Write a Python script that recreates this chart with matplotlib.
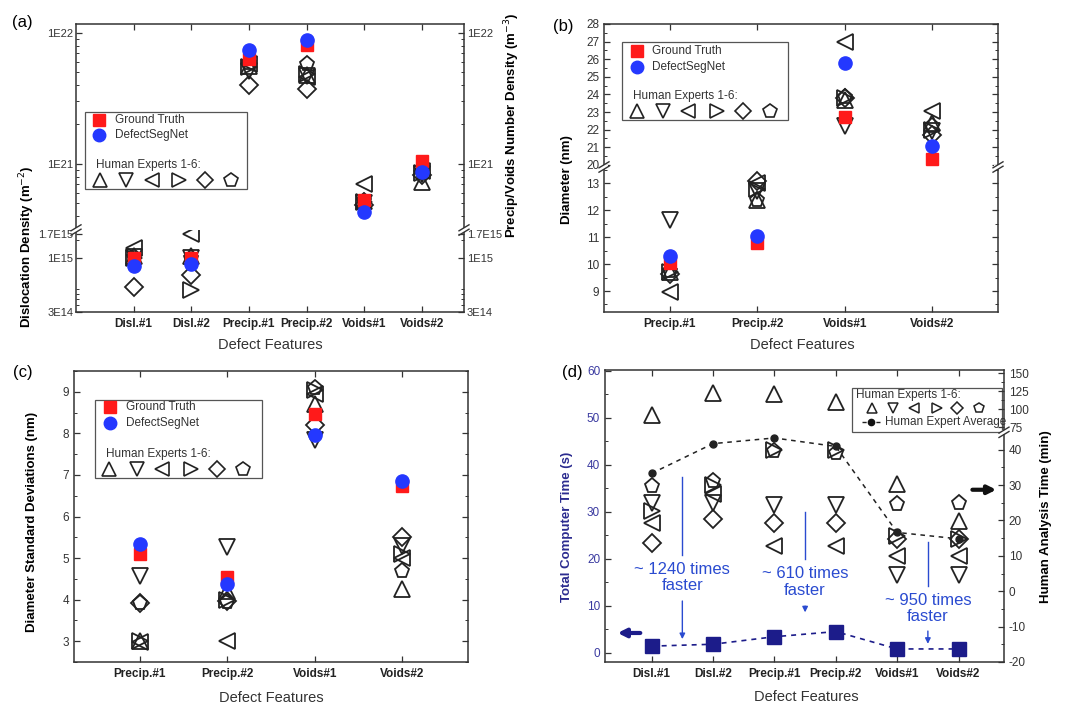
import numpy as np
import matplotlib.pyplot as plt
from matplotlib.lines import Line2D
from matplotlib.patches import Rectangle
from matplotlib.ticker import FixedLocator, MultipleLocator, LogLocator, NullFormatter

plt.rcParams['font.family'] = ['Liberation Sans', 'DejaVu Sans']
plt.rcParams['axes.linewidth'] = 1.1
plt.rcParams['axes.edgecolor'] = '#333333'
plt.rcParams['axes.unicode_minus'] = False

# ---- data ----
feat_6 = ['Disl.#1', 'Disl.#2', 'Precip.#1', 'Precip.#2', 'Voids#1', 'Voids#2']
feat_4 = ['Precip.#1', 'Precip.#2', 'Voids#1', 'Voids#2']
expert_markers = ['^', 'v', '<', '>', 'D', 'p']

# (a) densities: dislocations in m^-2, precipitates/voids in m^-3
gt_a = [1.0e15, 1.0e15, 6.3e21, 8.1e21, 5.3e20, 1.06e21]
dsn_a = [8.3e14, 8.8e14, 7.4e21, 8.8e21, 4.3e20, 8.7e20]
exp_a = [
    [1.05e15, 1.05e15, 5.6e21, 4.8e21, 5.2e20, 7.3e20],
    [1.02e15, 1.00e15, 5.1e21, 4.7e21, 5.0e20, 8.4e20],
    [1.25e15, 1.70e15, 5.8e21, 4.6e21, 7.0e20, 8.9e20],
    [1.00e15, 4.90e14, 5.5e21, 4.9e21, 5.1e20, 8.6e20],
    [5.20e14, 6.90e14, 4.0e21, 3.7e21, 4.9e20, 8.2e20],
    [1.03e15, 1.00e15, 5.9e21, 5.8e21, 5.2e20, 8.5e20],
]

# (b) diameter (nm)
gt_b = [10.04, 10.78, 22.7, 20.33]
dsn_b = [10.3, 11.03, 25.77, 21.05]
exp_b = [
    [9.70, 12.40, 23.70, 22.40],
    [11.65, 12.70, 22.18, 21.90],
    [8.98, 13.00, 27.00, 23.07],
    [9.70, 12.80, 23.80, 22.00],
    [9.65, 13.10, 23.80, 21.70],
    [9.75, 12.40, 23.85, 22.20],
]

# (c) diameter standard deviations (nm)
gt_c = [5.09, 4.55, 8.47, 6.73]
dsn_c = [5.34, 4.38, 7.97, 6.85]
exp_c = [
    [3.00, 4.20, 8.70, 4.26],
    [4.57, 5.26, 7.85, 5.29],
    [2.97, 3.00, 8.94, 5.00],
    [3.00, 4.00, 9.05, 5.10],
    [3.92, 3.96, 8.21, 5.50],
    [3.93, 3.95, 9.10, 4.70],
]

# (d) analysis time: computer (s) and human experts (min)
cpu_time = [1.4, 1.8, 3.4, 4.5, 0.8, 0.8]
exp_d = [
    [91.4, 122.0, 120.5, 110.0, 30.2, 19.9],
    [25.0, 25.0, 24.3, 24.3, 4.5, 4.5],
    [19.4, 27.4, 12.9, 12.9, 9.9, 9.9],
    [22.7, 30.0, 40.0, 39.8, 15.6, 14.7],
    [13.6, 20.4, 19.4, 19.4, 14.8, 14.8],
    [29.7, 31.0, 39.5, 39.0, 24.6, 25.0],
]
avg_d = [33.3, 41.7, 43.3, 40.9, 16.6, 14.8]
speedups = ['~ 1240 times\nfaster', '~ 610 times\nfaster', '~ 950 times\nfaster']

RED = '#ff1a1a'
BLUE = '#2438ff'
NAVY = '#1c1c8a'
ANNO = '#2a4bd0'

W, H = 1070, 704
fig = plt.figure(figsize=(W / 100, H / 100), dpi=100)


def box(l, t, r, b):
    return [l / W, 1 - b / H, (r - l) / W, (b - t) / H]


def base_ticks(ax, feats, top=True, bottom=True, labels=True):
    ax.set_xticks(range(len(feats)))
    if labels:
        ax.set_xticklabels(feats, fontweight='bold', fontsize=9)
    else:
        ax.tick_params(axis='x', labelbottom=False)
    ax.tick_params(which='both', direction='in', top=top, bottom=bottom,
                   left=True, right=True, labelsize=8.5, colors='#333333')
    ax.tick_params(which='major', length=4, width=0.9)
    ax.tick_params(which='minor', length=2, width=0.7)
    ax.tick_params(axis='x', which='minor', top=False, bottom=False)
    ax.tick_params(axis='x', labelcolor='#222222', pad=4)


def slash(px, py):
    fig.add_artist(Rectangle(((px - 4) / W, 1 - (py + 2) / H), 8 / W, 4 / H,
                             transform=fig.transFigure, facecolor='white',
                             edgecolor='none', zorder=20))
    for dy in (-2.2, 2.2):
        fig.add_artist(Line2D([(px - 5) / W, (px + 5) / W],
                              [1 - (py + dy + 3) / H, 1 - (py + dy - 3) / H],
                              color='#333333', lw=1.0, zorder=21))


def scatter_set(ax, gt, dsn, exps, ms_exp=11):
    x = np.arange(len(gt))
    for mk, vals in zip(expert_markers, exps):
        ms = ms_exp * 0.8 if mk == 'D' else ms_exp
        ax.plot(x, vals, ls='none', marker=mk, ms=ms, mfc='none', mec='#222222', mew=1.3)
    ax.plot(x, gt, ls='none', marker='s', ms=8, color=RED)
    ax.plot(x, dsn, ls='none', marker='o', ms=9.5, color=BLUE)


def legend_box(ax, frame, gt_y, dsn_y, sym_x, txt_x, title_xy, row_y, row_x):
    x0, y0, x1, y1 = frame
    ax.add_patch(Rectangle((x0, y0), x1 - x0, y1 - y0, transform=ax.transAxes,
                           facecolor='white', edgecolor='#555555', lw=0.9,
                           zorder=10, clip_on=False))
    kw = dict(transform=ax.transAxes, clip_on=False, zorder=11, ls='none')
    ax.plot([sym_x], [gt_y], marker='s', ms=8, color=RED, **kw)
    ax.plot([sym_x], [dsn_y], marker='o', ms=9, color=BLUE, **kw)
    ax.text(txt_x, gt_y, 'Ground Truth', transform=ax.transAxes, va='center',
            fontsize=8.5, color='#333333', zorder=12)
    ax.text(txt_x, dsn_y, 'DefectSegNet', transform=ax.transAxes, va='center',
            fontsize=8.5, color='#333333', zorder=12)
    ax.text(title_xy[0], title_xy[1], 'Human Experts 1-6:', transform=ax.transAxes,
            va='center', fontsize=8.5, color='#333333', zorder=12)
    for mk, xx in zip(expert_markers, row_x):
        ms = 8.5 if mk == 'D' else 10.5
        ax.plot([xx], [row_y], marker=mk, ms=ms, mfc='none', mec='#222222', mew=1.2, **kw)


# ================= (a) =================
ax_a1 = fig.add_axes(box(76, 24, 464, 230))
ax_a2 = fig.add_axes(box(76, 230, 464, 312), sharex=ax_a1)
for ax in (ax_a1, ax_a2):
    ax.set_yscale('log')
    scatter_set(ax, gt_a, dsn_a, exp_a)
ax_a1.set_xlim(-1.0, 5.73)
ax_a1.set_ylim(3.13e20, 1.17e22)
ax_a2.set_ylim(3.0e14, 1.87e15)
ax_a1.spines['bottom'].set_visible(False)
ax_a2.spines['top'].set_visible(False)
base_ticks(ax_a1, feat_6, top=True, bottom=False, labels=False)
base_ticks(ax_a2, feat_6, top=False, bottom=True)
ax_a1.yaxis.set_major_locator(FixedLocator([1e21, 1e22]))
ax_a1.set_yticklabels(['1E21', '1E22'])
ax_a1.yaxis.set_minor_locator(LogLocator(base=10, subs=np.arange(2, 10)))
ax_a1.yaxis.set_minor_formatter(NullFormatter())
ax_a2.yaxis.set_major_locator(FixedLocator([3e14, 1e15, 1.7e15]))
ax_a2.set_yticklabels(['3E14', '1E15', '1.7E15'])
ax_a2.yaxis.set_minor_locator(LogLocator(base=10, subs=np.arange(1, 10) * 0.5))
ax_a2.yaxis.set_minor_formatter(NullFormatter())
for ax in (ax_a1, ax_a2):
    ax.tick_params(axis='y', labelright=True, pad=2, labelsize=8)
slash(76, 230)
slash(464, 230)
legend_box(ax_a1, (0.023, 0.199, 0.441, 0.573), 0.534, 0.461, 0.060, 0.10,
           (0.052, 0.316), 0.243, [0.062, 0.129, 0.195, 0.265, 0.332, 0.399])
fig.text(27 / W, 1 - 247 / H, 'Dislocation Density (m$^{-2}$)', rotation=90,
         ha='center', va='center', fontsize=9.5, fontweight='bold')
fig.text(512 / W, 1 - 125 / H, 'Precip/Voids Number Density (m$^{-3}$)', rotation=90,
         ha='center', va='center', fontsize=9.5, fontweight='bold')
fig.text(270 / W, 1 - 345 / H, 'Defect Features', ha='center', va='center', fontsize=10.5, color='#333333')
fig.text(12 / W, 1 - 22 / H, '(a)', ha='left', va='center', fontsize=12)

# ================= (b) =================
ax_b1 = fig.add_axes(box(604, 24, 998, 167))
ax_b2 = fig.add_axes(box(604, 167, 998, 312), sharex=ax_b1)
for ax in (ax_b1, ax_b2):
    scatter_set(ax, gt_b, dsn_b, exp_b)
ax_b1.set_xlim(-0.75, 3.75)
ax_b1.set_ylim(19.88, 28.0)
ax_b2.set_ylim(8.22, 13.61)
ax_b1.spines['bottom'].set_visible(False)
ax_b2.spines['top'].set_visible(False)
base_ticks(ax_b1, feat_4, top=True, bottom=False, labels=False)
base_ticks(ax_b2, feat_4, top=False, bottom=True)
ax_b1.yaxis.set_major_locator(MultipleLocator(1))
ax_b1.yaxis.set_minor_locator(MultipleLocator(0.5))
ax_b2.yaxis.set_major_locator(MultipleLocator(1))
ax_b2.yaxis.set_minor_locator(MultipleLocator(0.5))
slash(604, 167)
slash(998, 167)
legend_box(ax_b1, (0.045, 0.329, 0.466, 0.872), 0.813, 0.697, 0.083, 0.123,
           (0.074, 0.497), 0.39, [0.083, 0.149, 0.214, 0.286, 0.352, 0.421])
fig.text(567 / W, 1 - 180 / H, 'Diameter (nm)', rotation=90,
         ha='center', va='center', fontsize=9.5, fontweight='bold')
fig.text(802 / W, 1 - 345 / H, 'Defect Features', ha='center', va='center', fontsize=10.5, color='#333333')
fig.text(553 / W, 1 - 27 / H, '(b)', ha='left', va='center', fontsize=12)

# ================= (c) =================
ax_c = fig.add_axes(box(74, 371, 468, 662))
scatter_set(ax_c, gt_c, dsn_c, exp_c)
ax_c.set_xlim(-0.75, 3.75)
ax_c.set_ylim(2.5, 9.5)
base_ticks(ax_c, feat_4)
ax_c.yaxis.set_major_locator(MultipleLocator(1))
ax_c.yaxis.set_minor_locator(MultipleLocator(0.5))
legend_box(ax_c, (0.053, 0.633, 0.476, 0.900), 0.875, 0.820, 0.091, 0.132,
           (0.081, 0.715), 0.662, [0.089, 0.159, 0.224, 0.296, 0.362, 0.430])
fig.text(32 / W, 1 - 522 / H, 'Diameter Standard Deviations (nm)', rotation=90,
         ha='center', va='center', fontsize=9.5, fontweight='bold')
fig.text(271 / W, 1 - 698 / H, 'Defect Features', ha='center', va='center', fontsize=10.5, color='#333333')
fig.text(13 / W, 1 - 373 / H, '(c)', ha='left', va='center', fontsize=12)

# ================= (d) =================
ax_d = fig.add_axes(box(605, 370, 1004, 662))
ax_dh = fig.add_axes(box(605, 370, 1004, 432.3), sharex=ax_d)
ax_dl = fig.add_axes(box(605, 432.3, 1004, 662), sharex=ax_d)
x6 = np.arange(len(feat_6))
ax_d.plot(x6, cpu_time, ls=(0, (3, 3)), lw=1.2, color=NAVY, marker='s', ms=9.5)
ax_d.set_xlim(-0.76, 5.74)
ax_d.set_ylim(-1.98, 60.2)
base_ticks(ax_d, feat_6)
ax_d.spines['right'].set_visible(False)
ax_d.tick_params(axis='y', which='both', right=False, labelcolor='#3a3aa0')
ax_d.yaxis.set_major_locator(MultipleLocator(10))
ax_d.yaxis.set_minor_locator(MultipleLocator(5))

for ax in (ax_dh, ax_dl):
    ax.patch.set_visible(False)
    for s in ('left', 'top', 'bottom'):
        ax.spines[s].set_visible(False)
    ax.tick_params(axis='x', which='both', bottom=False, top=False, labelbottom=False)
    ax.tick_params(axis='y', which='both', direction='in', left=False, right=True,
                   labelleft=False, labelright=True, labelsize=8.5, colors='#333333')
    ax.tick_params(which='major', length=4, width=0.9)
    ax.tick_params(which='minor', length=2, width=0.7)
    for mk, vals in zip(expert_markers, exp_d):
        ms = 8.8 if mk == 'D' else 11
        ax.plot(x6, vals, ls='none', marker=mk, ms=ms, mfc='none', mec='#222222', mew=1.3)
ax_dh.set_ylim(67.6, 154.6)
ax_dh.yaxis.set_major_locator(MultipleLocator(25))
ax_dh.yaxis.set_minor_locator(MultipleLocator(12.5))
ax_dl.set_ylim(-20, 44.9)
ax_dl.yaxis.set_major_locator(MultipleLocator(10))
ax_dl.yaxis.set_minor_locator(MultipleLocator(5))
ax_dl.plot(x6, avg_d, ls=(0, (3, 3)), lw=1.1, color='#222222', marker='o', ms=5)
slash(1004, 432.3)

# speed-up annotations
for (xa, y_top, y_bot, y_txt, y_a0, y_a1), label in zip(
        [(0.5, 37.5, 20.8, 16.0, 11.6, 2.3),
         (2.5, 30.0, 20.0, 15.0, 10.5, 8.0),
         (4.5, 23.6, 14.1, 9.4, 5.2, 1.3)], speedups):
    ax_d.plot([xa, xa], [y_bot, y_top], color=ANNO, lw=1.0)
    ax_d.text(xa, y_txt, label, ha='center', va='center', fontsize=12,
              color=ANNO, linespacing=1.15)
    ax_d.annotate('', xy=(xa, y_a1), xytext=(xa, y_a0),
                  arrowprops=dict(arrowstyle='-|>', color=ANNO, lw=1.0, mutation_scale=8))
ax_d.annotate('', xy=(5.66, 34.7), xytext=(5.18, 34.7),
              arrowprops=dict(arrowstyle='-|>', color='#111111', lw=3.0, mutation_scale=12))
ax_d.annotate('', xy=(-0.6, 4.2), xytext=(-0.14, 4.2), annotation_clip=False,
              arrowprops=dict(arrowstyle='-|>', color=NAVY, lw=3.0, mutation_scale=12))

# legend (d)
ax_d.add_patch(Rectangle((0.62, 0.788), 0.375, 0.15, transform=ax_d.transAxes,
                         facecolor='white', edgecolor='#555555', lw=0.9, zorder=10))
ax_d.text(0.63, 0.914, 'Human Experts 1-6:', transform=ax_d.transAxes, va='center',
          fontsize=8.5, color='#333333', zorder=12)
for mk, xx in zip(expert_markers, [0.668, 0.722, 0.774, 0.831, 0.883, 0.938]):
    ax_d.plot([xx], [0.869], marker=mk, ms=6 if mk == 'D' else 7.5, mfc='none', mec='#222222',
              mew=1.1, ls='none', transform=ax_d.transAxes, zorder=11)
ax_d.plot([0.643, 0.689], [0.823, 0.823], ls=(0, (3, 2)), lw=1.0, color='#222222',
          transform=ax_d.transAxes, zorder=11)
ax_d.plot([0.666], [0.823], marker='o', ms=4.5, color='#111111', transform=ax_d.transAxes, zorder=11)
ax_d.text(0.703, 0.823, 'Human Expert Average', transform=ax_d.transAxes, va='center',
          fontsize=8.5, color='#333333', zorder=12)

fig.text(567 / W, 1 - 527 / H, 'Total Computer Time (s)', rotation=90,
         ha='center', va='center', fontsize=9.5, fontweight='bold', color='#2b2b8f')
fig.text(1046 / W, 1 - 517 / H, 'Human Analysis Time (min)', rotation=90,
         ha='center', va='center', fontsize=9.5, fontweight='bold')
fig.text(806 / W, 1 - 697 / H, 'Defect Features', ha='center', va='center', fontsize=10.5, color='#333333')
fig.text(562 / W, 1 - 373 / H, '(d)', ha='left', va='center', fontsize=12)

fig.savefig('out.png', dpi=100)
